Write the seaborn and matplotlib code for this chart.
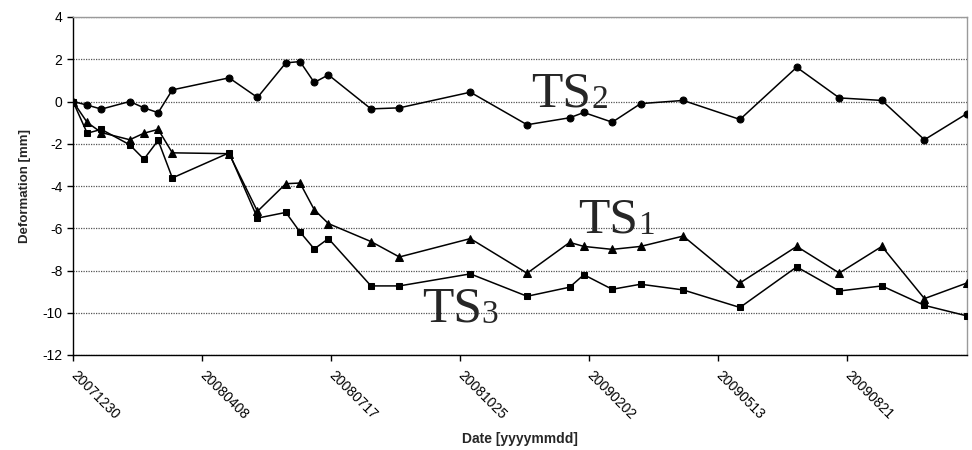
import matplotlib
matplotlib.use("Agg")
import matplotlib.pyplot as plt
import pandas as pd
import seaborn as sns

# Acquisition dates (11-day repeat) and deformation per point [mm]
dates = ["20071230", "20080110", "20080121", "20080212", "20080223", "20080305",
         "20080316", "20080429", "20080521", "20080612", "20080623", "20080704",
         "20080715", "20080817", "20080908", "20081102", "20081216", "20090118",
         "20090129", "20090220", "20090314", "20090416", "20090530", "20090713",
         "20090815", "20090917", "20091020", "20091122"]
ts1 = [0.0, -0.99, -1.47, -1.81, -1.50, -1.32, -2.43, -2.47, -5.20, -3.89,
       -3.86, -5.12, -5.78, -6.63, -7.36, -6.49, -8.13, -6.67, -6.86, -7.00,
       -6.86, -6.37, -8.59, -6.86, -8.12, -6.86, -9.33, -8.59]
ts2 = [0.0, -0.17, -0.36, 0.0, -0.30, -0.53, 0.55, 1.12, 0.19, 1.83,
       1.89, 0.90, 1.26, -0.35, -0.30, 0.44, -1.10, -0.77, -0.52, -0.98,
       -0.10, 0.05, -0.85, 1.62, 0.17, 0.05, -1.81, -0.57]
ts3 = [0.0, -1.50, -1.32, -2.05, -2.73, -1.84, -3.62, -2.43, -5.52, -5.25,
       -6.18, -6.98, -6.49, -8.73, -8.73, -8.16, -9.22, -8.79, -8.20, -8.89,
       -8.65, -8.92, -9.75, -7.83, -8.97, -8.73, -9.65, -10.15]
tick_dates = ["20071230", "20080408", "20080717", "20081025",
              "20090202", "20090513", "20090821"]
y_ticks = [-12, -10, -8, -6, -4, -2, 0, 2, 4]

sns.set_style("white")
plt.rcParams["font.family"] = ["Liberation Sans", "DejaVu Sans"]
plt.rcParams["axes.unicode_minus"] = False

fig = plt.figure(figsize=(9.72, 4.5), dpi=100)
ax = fig.add_axes([73 / 972, 1 - 355 / 450, 894 / 972, 338 / 450])

x = pd.to_datetime(dates, format="%Y%m%d")
df = pd.DataFrame({"date": x, "TS1": ts1, "TS2": ts2, "TS3": ts3})

for col, mk, ms in [("TS2", "o", 5.0), ("TS1", "^", 5.5), ("TS3", "s", 5.0)]:
    sns.lineplot(data=df, x="date", y=col, ax=ax, color="black", marker=mk,
                 markersize=ms, markeredgecolor="black", linewidth=1.1,
                 estimator=None, sort=False, zorder=3)

ax.set_xlim(x[0], x[-1])
ax.set_ylim(-12, 4)
ax.set_yticks(y_ticks)
ax.set_yticklabels([str(v) for v in y_ticks])

ticks = pd.to_datetime(tick_dates, format="%Y%m%d")
ax.set_xticks(ticks)
ax.set_xticklabels(tick_dates, rotation=-45, ha="left", va="center",
                   rotation_mode="anchor")

ax.yaxis.grid(True, linestyle=(0, (1, 1)), color="#555555", linewidth=0.9)
ax.xaxis.grid(False)

for side in ("left", "bottom"):
    ax.spines[side].set_color("black")
    ax.spines[side].set_linewidth(1.0)
for side in ("top", "right"):
    ax.spines[side].set_color("#9a9a9a")
    ax.spines[side].set_linewidth(1.0)

ax.tick_params(axis="both", direction="out", length=4, width=1, color="black",
               labelsize=10, labelcolor="black")
ax.tick_params(axis="x", pad=9)
ax.tick_params(left=True, bottom=True, top=False, right=False)

ax.set_xlabel("Date [yyyymmdd]", fontsize=10, fontweight="bold", labelpad=7)
ax.set_ylabel("Deformation [mm]", fontsize=9.5, fontweight="bold", labelpad=8)

# Series labels with subscript digits
serif = ["Liberation Serif", "DejaVu Serif"]
for name, sub, fx, fy in [("TS", "2", 0.513, 0.735),
                          ("TS", "1", 0.565, 0.361),
                          ("TS", "3", 0.390, 0.099)]:
    t = ax.text(fx, fy, name, transform=ax.transAxes, family=serif,
                fontsize=37, ha="left", va="baseline", zorder=4)
    ax.annotate(sub, xy=(1, 0), xycoords=t, xytext=(0, 2),
                textcoords="offset points", family=serif, fontsize=24,
                ha="left", va="bottom", zorder=4)

fig.savefig("out.png", dpi=100)
